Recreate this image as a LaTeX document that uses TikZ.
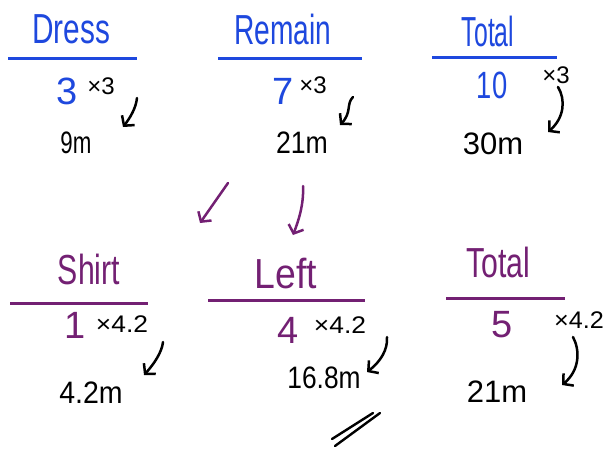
\documentclass[tikz,border=0pt]{standalone}
\usepackage{fontspec}
\setmainfont{Liberation Sans}
\usetikzlibrary{arrows.meta}
\definecolor{hwblue}{RGB}{30,72,222}
\definecolor{hwpurple}{RGB}{115,32,115}
\newcommand{\hs}[2]{\scalebox{#1}[1]{#2}}
\tikzset{
  every node/.style={inner sep=0pt, outer sep=0pt, anchor=center},
  head/.style={font=\fontsize{42}{42}\selectfont},
  num/.style={font=\fontsize{38}{38}\selectfont},
  res/.style={font=\fontsize{31}{31}\selectfont, text=black},
  mult/.style={font=\fontsize{24}{24}\selectfont, text=black},
  uline/.style={line width=3pt},
  hwarrow/.style={line width=2.5pt, line cap=round, line join=round,
    -{Straight Barb[length=7pt,width=16pt,line width=2.5pt]}},
}
\begin{document}
\begin{tikzpicture}[x=1pt,y=-1pt]
\useasboundingbox (0,0) rectangle (608,448);
% ---------- top row (blue) ----------
\node[head, text=hwblue] (dress) at (71,29) {\hs{0.71}{Dress}};
\node[head, text=hwblue] (remain) at (283,29) {\hs{0.67}{Remain}};
\node[head, text=hwblue] (total1) at (488,31) {\hs{0.59}{Total}};
\coordinate (u1a) at (8,58);   \coordinate (u1b) at (137,58);
\coordinate (u2a) at (218,58); \coordinate (u2b) at (362,58);
\coordinate (u3a) at (432,57); \coordinate (u3b) at (557,57);
\draw[uline, hwblue] (u1a) -- (u1b);
\draw[uline, hwblue] (u2a) -- (u2b);
\draw[uline, hwblue] (u3a) -- (u3b);
\node[num, text=hwblue] (n3) at (67,91) {3};
\node[num, text=hwblue] (n7) at (283,91) {7};
\node[num, text=hwblue] (n10) at (492,85) {\hs{0.72}{10}};
\node[mult] (m1) at (101,86) {×3};
\node[mult] (m2) at (313,85) {×3};
\node[mult] (m3) at (556,75) {×3};
\node[res] (r1) at (76,143) {\hs{0.72}{9m}};
\node[res] (r2) at (302,143) {\hs{0.86}{21m}};
\node[res] (r3) at (493,144) {30m};
\coordinate (a1s) at (137,98);  \coordinate (a1e) at (123,127);
\coordinate (a2s) at (353,97);  \coordinate (a2e) at (340,125);
\coordinate (a3s) at (558,87);  \coordinate (a3e) at (548,132);
\draw[hwarrow] (a1s) .. controls (136,108) and (130,118) .. (a1e);
\draw[hwarrow] (a2s) .. controls (346,104) and (352,112) .. (a2e);
\draw[hwarrow] (a3s) .. controls (566,100) and (564,118) .. (a3e);
% ---------- connecting purple arrows ----------
\coordinate (p1s) at (228,183); \coordinate (p1e) at (200,223);
\coordinate (p2s) at (303,186); \coordinate (p2e) at (293,235);
\draw[hwarrow, hwpurple] (p1s) -- (p1e);
\draw[hwarrow, hwpurple] (p2s) .. controls (304,205) and (298,222) .. (p2e);
% ---------- bottom row (purple) ----------
\node[head, text=hwpurple] (shirt) at (89,269) {\hs{0.72}{Shirt}};
\node[head, text=hwpurple] (left) at (286,274) {\hs{0.89}{Left}};
\node[head, text=hwpurple] (total2) at (498,262) {\hs{0.72}{Total}};
\coordinate (v1a) at (10,303);  \coordinate (v1b) at (148,303);
\coordinate (v2a) at (208,300); \coordinate (v2b) at (365,300);
\coordinate (v3a) at (446,298); \coordinate (v3b) at (565,298);
\draw[uline, hwpurple] (v1a) -- (v1b);
\draw[uline, hwpurple] (v2a) -- (v2b);
\draw[uline, hwpurple] (v3a) -- (v3b);
\node[num, text=hwpurple] (n1) at (75,325) {1};
\node[num, text=hwpurple] (n4) at (288,330) {4};
\node[num, text=hwpurple] (n5) at (502,325) {5};
\node[mult] (m4) at (122,324) {\hs{1.1}{×4.2}};
\node[mult] (m5) at (340,325) {\hs{1.1}{×4.2}};
\node[mult] (m6) at (579,320) {\hs{1.05}{×4.2}};
\node[res] (r4) at (91,393) {\hs{0.92}{4.2m}};
\node[res] (r5) at (324,378) {\hs{0.85}{16.8m}};
\node[res] (r6) at (497,392) {21m};
\coordinate (a4s) at (163,342); \coordinate (a4e) at (144,375);
\coordinate (a5s) at (387,337); \coordinate (a5e) at (367,372);
\coordinate (a6s) at (573,337); \coordinate (a6e) at (562,385);
\draw[hwarrow] (a4s) .. controls (162,352) and (154,364) .. (a4e);
\draw[hwarrow] (a5s) .. controls (388,350) and (380,362) .. (a5e);
\draw[hwarrow] (a6s) .. controls (580,350) and (580,370) .. (a6e);
% ---------- double stroke ----------
\coordinate (d1a) at (332,439); \coordinate (d1b) at (373,413);
\coordinate (d2a) at (335,446); \coordinate (d2b) at (380,413);
\draw[line width=2.4pt, line cap=round] (d1a) -- (d1b);
\draw[line width=2.4pt, line cap=round] (d2a) -- (d2b);
\end{tikzpicture}
\end{document}
